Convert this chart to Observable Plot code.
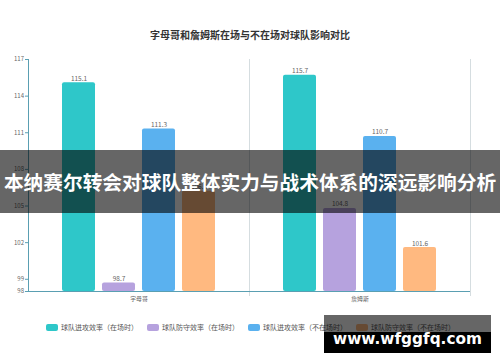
<!DOCTYPE html>
<html>
<head>
<meta charset="utf-8">
<script src="https://cdn.jsdelivr.net/npm/d3@7"></script>
<script src="https://cdn.jsdelivr.net/npm/@observablehq/plot@0.6"></script>
<style>
  html, body { margin: 0; padding: 0; background: #fff; }
  body { font-family: "Noto Sans CJK SC", "Noto Sans", sans-serif; }
  #wrap { position: relative; width: 500px; height: 362px; overflow: hidden; }
  #title { position: absolute; left: 0; width: 500px; top: 28px; text-align: center;
           font-size: 10px; font-weight: bold; color: #333; line-height: 14px; }
  #chart { position: absolute; left: 0; top: 0; }
  #legend { position: absolute; top: 322px; left: 46px; display: flex; align-items: center;
            font-size: 7px; color: #555; line-height: 10px; white-space: nowrap; }
  #legend .item { display: flex; align-items: center; margin-right: 9px; }
  #legend .sw { width: 12px; height: 7px; border-radius: 2px; margin-right: 3px; }
  #banner { position: absolute; left: 0; top: 150px; width: 500px; height: 63px;
            background: rgba(0,0,0,0.6); color: #fff; font-weight: bold; font-size: 19.7px;
            line-height: 63px; text-align: center; white-space: nowrap; letter-spacing: 0; }
  #wm-top { position: absolute; left: 324px; top: 315px; width: 167px; height: 17px; background: rgba(0,0,0,0.6); }
  #wm { position: absolute; left: 324px; top: 332px; width: 167px; height: 21px; background: #000;
        color: #fff; font-family: "DejaVu Sans", sans-serif; font-weight: bold; font-size: 15.3px;
        line-height: 14px; text-align: center; white-space: nowrap; }
</style>
</head>
<body>
<div id="wrap">
  <div id="chart"></div>
  <div id="title"></div>
  <div id="legend"></div>
  <div id="banner"></div>
  <div id="wm-top"></div>
  <div id="wm"></div>
</div>
<script>
const titleText = "字母哥和詹姆斯在场与不在场对球队影响对比";
const players = ["字母哥", "詹姆斯"];
const seriesNames = ["球队进攻效率（在场时）", "球队防守效率（在场时）", "球队进攻效率（不在场时）", "球队防守效率（不在场时）"];
const seriesColors = ["#2ec7c9", "#b6a2de", "#5ab1ef", "#ffb980"];
const valuesGiannis = [115.1, 98.7, 111.3, 106.2];
const valuesJames = [115.7, 104.8, 110.7, 101.6];
const yTicks = [98, 99, 102, 105, 108, 111, 114, 117];
const bannerText = "本纳赛尔转会对球队整体实力与战术体系的深远影响分析";
const watermarkText = "www.wfggfq.com";

const yMin = yTicks[0];
const yMax = yTicks[yTicks.length - 1];
const valuesByPlayer = [valuesGiannis, valuesJames];
const data = [];
players.forEach((p, i) => seriesNames.forEach((s, j) => data.push({player: p, series: s, value: valuesByPlayer[i][j]})));

const axisColor = "#5a9fb2";
const textColor = "#666";

const chart = Plot.plot({
  width: 500,
  height: 362,
  marginTop: 59,
  marginBottom: 71,
  marginLeft: 27,
  marginRight: 30,
  style: {fontFamily: "'Noto Sans CJK SC', 'Noto Sans', sans-serif", background: "transparent"},
  fx: {domain: players, padding: 0, label: null},
  x: {domain: seriesNames, paddingInner: 0.176, paddingOuter: 0.83, axis: null},
  y: {domain: [yMin, yMax], label: null},
  color: {domain: seriesNames, range: seriesColors},
  marks: [
    Plot.frame({anchor: "right", stroke: "#d5dde0", insetBottom: -4}),
    Plot.barY(data, {fx: "player", x: "series", y1: yMin, y2: "value", fill: "series", rx: 2}),
    Plot.text(data, {fx: "player", x: "series", y: "value", text: d => d.value.toFixed(1),
      lineAnchor: "bottom", dy: -2, fontSize: 6.5, fill: textColor}),
    Plot.ruleY([yMin], {stroke: axisColor, strokeWidth: 1}),
    Plot.frame({anchor: "left", facetAnchor: "left", stroke: axisColor}),
    Plot.axisY({ticks: yTicks, tickFormat: d => String(d), tickSize: 3, tickPadding: 1.5,
      fontSize: 6, color: textColor, stroke: axisColor, label: null}),
    Plot.axisFx({anchor: "bottom", tickSize: 0, tickPadding: 5, fontSize: 5.8, color: textColor, label: null})
  ]
});
document.getElementById("chart").appendChild(chart);

document.getElementById("title").textContent = titleText;
const legend = document.getElementById("legend");
seriesNames.forEach((s, i) => {
  const item = document.createElement("div");
  item.className = "item";
  const sw = document.createElement("div");
  sw.className = "sw";
  sw.style.background = seriesColors[i];
  const t = document.createElement("span");
  t.textContent = s;
  item.appendChild(sw);
  item.appendChild(t);
  legend.appendChild(item);
});
document.getElementById("banner").textContent = bannerText;
document.getElementById("wm").textContent = watermarkText;
</script>
</body>
</html>
